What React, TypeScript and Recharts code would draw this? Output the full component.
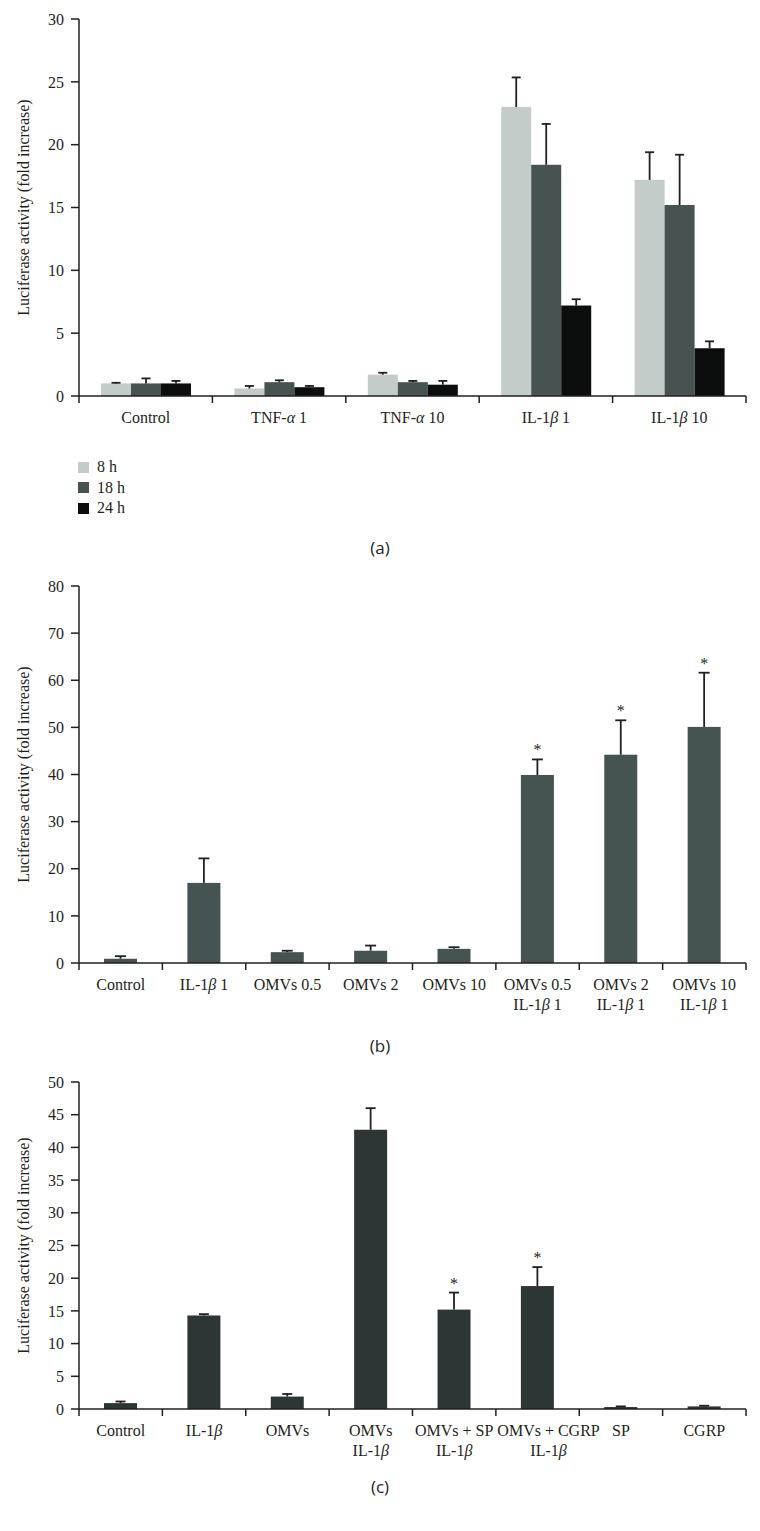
import React from 'react';
import {BarChart, Bar, XAxis, YAxis} from 'recharts';

// panel (a): time course
const timeCategories = ['Control', 'TNF-α 1', 'TNF-α 10', 'IL-1β 1', 'IL-1β 10'];
const mean8h = [1.0, 0.6, 1.7, 23.0, 17.2];
const err8h = [0.05, 0.2, 0.15, 2.35, 2.2];
const mean18h = [1.0, 1.1, 1.1, 18.4, 15.2];
const err18h = [0.4, 0.15, 0.1, 3.25, 4.0];
const mean24h = [1.0, 0.7, 0.9, 7.2, 3.8];
const err24h = [0.2, 0.1, 0.3, 0.5, 0.55];
const timeTicks = [0, 5, 10, 15, 20, 25, 30];

// panel (b): OMV dose
const doseCategories = ['Control', 'IL-1β 1', 'OMVs 0.5', 'OMVs 2', 'OMVs 10', 'OMVs 0.5\nIL-1β 1', 'OMVs 2\nIL-1β 1', 'OMVs 10\nIL-1β 1'];
const doseMean = [0.9, 17.0, 2.3, 2.6, 3.0, 39.9, 44.2, 50.1];
const doseErr = [0.55, 5.2, 0.3, 1.1, 0.35, 3.3, 7.3, 11.5];
const doseStar = [false, false, false, false, false, true, true, true];
const doseTicks = [0, 10, 20, 30, 40, 50, 60, 70, 80];

// panel (c): neuropeptides
const peptideCategories = ['Control', 'IL-1β', 'OMVs', 'OMVs\nIL-1β', 'OMVs + SP\nIL-1β', 'OMVs + CGRP\nIL-1β', 'SP', 'CGRP'];
const peptideMean = [0.9, 14.3, 1.9, 42.7, 15.2, 18.8, 0.3, 0.4];
const peptideErr = [0.25, 0.2, 0.4, 3.3, 2.6, 2.9, 0.1, 0.1];
const peptideStar = [false, false, false, false, true, true, false, false];
const peptideTicks = [0, 5, 10, 15, 20, 25, 30, 35, 40, 45, 50];

const seriesNames = ['8 h', '18 h', '24 h'];
const seriesColors = ['#c3ccc9', '#465352', '#0b0e0d'];

const INK = '#231f20';
const SERIF = '"Liberation Serif", "Times New Roman", serif';
const YTITLE = 'Luciferase activity (fold increase)';

const dataA = timeCategories.map((name, i) => ({
    name,
    h8: mean8h[i], h8e: err8h[i],
    h18: mean18h[i], h18e: err18h[i],
    h24: mean24h[i], h24e: err24h[i],
}));
const dataB = doseCategories.map((name, i) => ({name, v: doseMean[i], e: doseErr[i], star: doseStar[i]}));
const dataC = peptideCategories.map((name, i) => ({name, v: peptideMean[i], e: peptideErr[i], star: peptideStar[i]}));

// renders greek letters in italic
const withGreek = (s: string) =>
    s.split(/([αβ])/).filter(p => p !== '').map((p, i) =>
        /[αβ]/.test(p) ? <tspan key={i} fontStyle="italic">{p}</tspan> : <tspan key={i}>{p}</tspan>);

// bar with a one-sided error bar (and optional asterisk) on top
const errorBarShape = (valueKey: string, errKey: string, capWidth: number) => (props: any) => {
    const {x, y, width, height, fill, payload} = props;
    const v = payload[valueKey];
    const e = payload[errKey];
    const pxPerUnit = v > 0 ? height / v : 0;
    const cx = x + width / 2;
    const top = y - e * pxPerUnit;
    return (
        <g>
            <rect x={x} y={y} width={width} height={height} fill={fill}/>
            {e > 0 && <line x1={cx} x2={cx} y1={y} y2={top} stroke={INK} strokeWidth={1.8}/>}
            {e > 0 && <line x1={cx - capWidth / 2} x2={cx + capWidth / 2} y1={top} y2={top} stroke={INK} strokeWidth={1.8}/>}
            {payload.star && <text x={cx} y={top - 4} textAnchor="middle" fontSize={16} fontFamily={SERIF} fill={INK}>*</text>}
        </g>
    );
};

const CategoryTick = (props: any) => {
    const {x, y, payload, count, width, shift} = props;
    const half = typeof payload.offset === 'number' && payload.offset > 0 ? payload.offset : width / (2 * count);
    const lines = String(payload.value).split('\n');
    const tx = x + ((shift && shift[payload.index]) || 0);
    return (
        <g>
            <line x1={x - half} x2={x - half} y1={y} y2={y + 7} stroke={INK} strokeWidth={1.5}/>
            {payload.index === count - 1 && <line x1={x + half} x2={x + half} y1={y} y2={y + 7} stroke={INK} strokeWidth={1.5}/>}
            <text x={tx} y={y + 27} textAnchor="middle" fontSize={16} fontFamily={SERIF} fill={INK}>
                {lines.map((ln, i) => <tspan key={i} x={tx} dy={i === 0 ? 0 : 20}>{withGreek(ln)}</tspan>)}
            </text>
        </g>
    );
};

const yTitle = (p: any) => {
    const vb = p.viewBox;
    const cy = vb.y + vb.height / 2;
    return (
        <text x={23} y={cy} transform={`rotate(-90, 23, ${cy})`} textAnchor="middle" dominantBaseline="central"
              fontSize={16} fontFamily={SERIF} fill={INK}>{YTITLE}</text>
    );
};

const yAxisProps = {
    width: 79,
    tickSize: 8,
    tickMargin: 7,
    stroke: INK,
    strokeWidth: 1.5,
    tick: {fontSize: 16, fontFamily: SERIF, fill: INK},
    label: {content: yTitle},
    interval: 0 as const,
};

const xAxisProps = (n: number, shift?: Record<number, number>) => ({
    dataKey: 'name',
    tickLine: false,
    tickSize: 0,
    tickMargin: 0,
    interval: 0 as const,
    stroke: INK,
    strokeWidth: 1.5,
    tick: <CategoryTick count={n} shift={shift}/>,
});

const Caption = ({text, top}: {text: string, top: number}) => (
    <div style={{position: 'absolute', top, left: 0, width: 760, textAlign: 'center', fontFamily: '"Open Sans", sans-serif', fontSize: 17, color: INK}}>
        {text}
    </div>
);

const App = () => {
    return (
        <div style={{position: 'absolute', top: 0, left: 0, width: 760, height: 1531, background: '#fff'}}>
            <div style={{position: 'absolute', top: 0, left: 0}}>
                <BarChart width={760} height={440} data={dataA} margin={{top: 19, right: 14, left: 0, bottom: 0}}
                          barCategoryGap="16.5%" barGap={0}>
                    <XAxis {...xAxisProps(timeCategories.length)} height={44}/>
                    <YAxis {...yAxisProps} domain={[0, 30]} ticks={timeTicks}/>
                    <Bar dataKey="h8" fill={seriesColors[0]} isAnimationActive={false} shape={errorBarShape('h8', 'h8e', 9)}/>
                    <Bar dataKey="h18" fill={seriesColors[1]} isAnimationActive={false} shape={errorBarShape('h18', 'h18e', 9)}/>
                    <Bar dataKey="h24" fill={seriesColors[2]} isAnimationActive={false} shape={errorBarShape('h24', 'h24e', 9)}/>
                </BarChart>
            </div>
            <div style={{position: 'absolute', top: 457, left: 78, fontFamily: SERIF, fontSize: 16, color: INK}}>
                {seriesNames.map((s, i) => (
                    <div key={s} style={{display: 'flex', alignItems: 'center', height: 20.5}}>
                        <span style={{display: 'inline-block', width: 11, height: 11, background: seriesColors[i], marginRight: 8}}/>
                        <span>{s}</span>
                    </div>
                ))}
            </div>
            <Caption text="(a)" top={536}/>

            <div style={{position: 'absolute', top: 560, left: 0}}>
                <BarChart width={760} height={463} data={dataB} margin={{top: 26, right: 14, left: 0, bottom: 0}}
                          barCategoryGap="30%">
                    <XAxis {...xAxisProps(doseCategories.length)} height={60}/>
                    <YAxis {...yAxisProps} domain={[0, 80]} ticks={doseTicks}/>
                    <Bar dataKey="v" fill="#455352" isAnimationActive={false} shape={errorBarShape('v', 'e', 11)}/>
                </BarChart>
            </div>
            <Caption text="(b)" top={1034}/>

            <div style={{position: 'absolute', top: 1060, left: 0}}>
                <BarChart width={760} height={409} data={dataC} margin={{top: 22, right: 14, left: 0, bottom: 0}}
                          barCategoryGap="30%">
                    <XAxis {...xAxisProps(peptideCategories.length, {5: 11})} height={60}/>
                    <YAxis {...yAxisProps} domain={[0, 50]} ticks={peptideTicks}/>
                    <Bar dataKey="v" fill="#2e3535" isAnimationActive={false} shape={errorBarShape('v', 'e', 10)}/>
                </BarChart>
            </div>
            <Caption text="(c)" top={1475}/>
        </div>
    );
};

export default App;
